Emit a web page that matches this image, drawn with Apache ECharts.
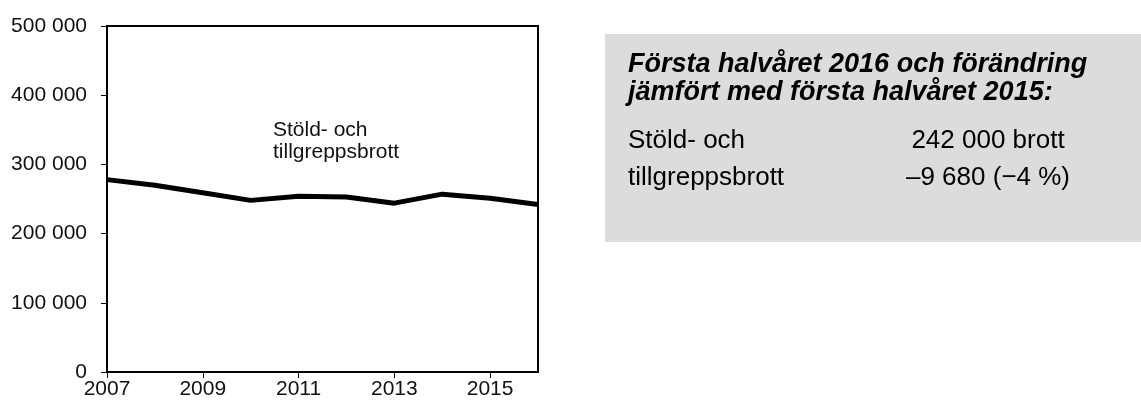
<!DOCTYPE html>
<html>
<head>
<meta charset="utf-8">
<script src="https://cdn.jsdelivr.net/npm/echarts@6/dist/echarts.min.js"></script>
<style>
  html, body { margin: 0; padding: 0; background: #fff; }
  #chart { width: 1141px; height: 405px; }
</style>
</head>
<body>
<div id="chart"></div>
<script>
// data
const years = ['2007', '2008', '2009', '2010', '2011', '2012', '2013', '2014', '2015', '2016']
const theftCrimes = [278000, 270000, 259000, 248000, 254000, 253000, 244000, 257000, 251000, 242000]
const seriesName = 'Stöld- och\ntillgreppsbrott'
const boxTitle = 'Första halvåret 2016 och förändring\njämfört med första halvåret 2015:'
const boxLabel = 'Stöld- och\ntillgreppsbrott'
const boxValue = '242 000 brott\n–9 680 (−4 %)'

const font = '"Liberation Sans", Arial, sans-serif'

const chart = echarts.init(document.getElementById('chart'))

chart.setOption({
  animation: false,
  textStyle: { fontFamily: font },
  grid: {
    left: 107,
    right: 603,
    top: 26,
    bottom: 33,
    show: true,
    borderColor: '#000',
    borderWidth: 2,
  },
  xAxis: {
    type: 'category',
    data: years,
    boundaryGap: false,
    axisLine: { lineStyle: { color: '#000', width: 2 } },
    axisTick: { show: true, length: 6, interval: 1, lineStyle: { color: '#000', width: 1 } },
    axisLabel: { interval: 1, margin: 7, color: '#111', fontSize: 21, fontFamily: font },
    splitLine: { show: false },
  },
  yAxis: {
    type: 'value',
    min: 0,
    max: 500000,
    interval: 100000,
    axisLine: { show: true, lineStyle: { color: '#000', width: 2 } },
    axisTick: { show: true, length: 6, lineStyle: { color: '#000', width: 1 } },
    axisLabel: {
      margin: 20,
      color: '#111',
      fontSize: 21,
      fontFamily: font,
      formatter: (v) => String(v).replace(/\B(?=(\d{3})+(?!\d))/g, ' '),
    },
    splitLine: { show: false },
  },
  series: [
    {
      name: seriesName,
      type: 'line',
      data: theftCrimes,
      showSymbol: false,
      lineStyle: { color: '#000', width: 5 },
    },
  ],
  graphic: [
    {
      type: 'text',
      left: 273,
      top: 119,
      style: { text: seriesName, font: '21px ' + font, fill: '#111', lineHeight: 22 },
    },
    {
      type: 'rect',
      shape: { x: 605, y: 34, width: 536, height: 208 },
      style: { fill: '#dcdcdc' },
      z: -1,
    },
    {
      type: 'text',
      left: 628,
      top: 51,
      style: {
        text: boxTitle,
        font: 'italic bold 27px ' + font,
        fill: '#000',
        lineHeight: 28,
      },
    },
    {
      type: 'text',
      left: 628,
      top: 122,
      style: { text: boxLabel, font: '26px ' + font, fill: '#000', lineHeight: 37 },
    },
    {
      type: 'text',
      x: 988,
      y: 122,
      style: {
        text: boxValue,
        font: '26px ' + font,
        fill: '#000',
        lineHeight: 37,
        align: 'center',
        verticalAlign: 'top',
      },
    },
  ],
})
</script>
</body>
</html>
